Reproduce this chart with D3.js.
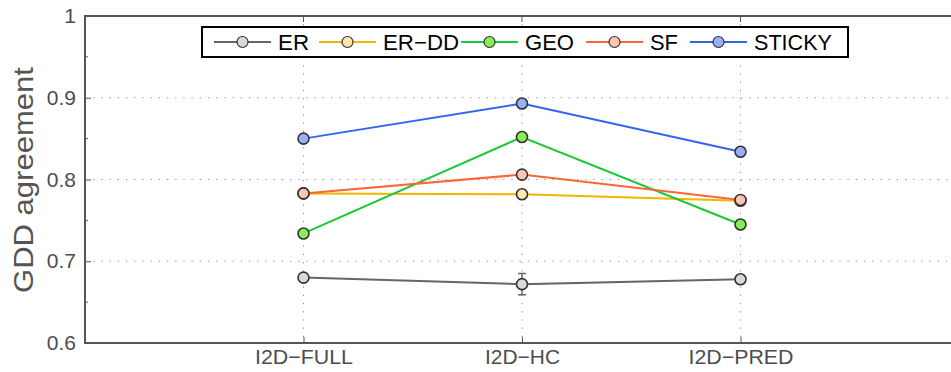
<!DOCTYPE html>
<html><head><meta charset="utf-8">
<script src="https://cdn.jsdelivr.net/npm/d3@7"></script>
<style>body{margin:0;background:#fff}svg{display:block}</style>
</head><body>
<script>
const categories = ["I2D−FULL", "I2D−HC", "I2D−PRED"];
const seriesNames = ["ER", "ER−DD", "GEO", "SF", "STICKY"];
const ER     = [0.680, 0.672, 0.678];
const ER_DD  = [0.783, 0.782, 0.774];
const GEO    = [0.734, 0.852, 0.745];
const SF     = [0.783, 0.806, 0.775];
const STICKY = [0.850, 0.893, 0.834];
const ER_err     = [0.002, 0.013, 0.002];
const ER_DD_err  = [0.001, 0.001, 0.001];
const GEO_err    = [0.001, 0.001, 0.001];
const SF_err     = [0.001, 0.001, 0.001];
const STICKY_err = [0.001, 0.001, 0.001];
const yTicks = [0.6, 0.7, 0.8, 0.9, 1];
const yMinorTicks = [0.65, 0.75, 0.85, 0.95];
const yLabel = "GDD agreement";

const lineColors = ["#666666", "#f2b600", "#19c837", "#ff6633", "#3366ee"];
const fillColors = ["#d9d9d9", "#ffe8b0", "#88ee55", "#ffc4b2", "#97b0f7"];
const series = [ER, ER_DD, GEO, SF, STICKY];
const errs = [ER_err, ER_DD_err, GEO_err, SF_err, STICKY_err];

const W = 951, H = 372;
const L = 85, T = 16, B = 343, R = 959;
const svg = d3.select("body").append("svg").attr("width", W).attr("height", H)
  .style("font-family", "'Liberation Sans', Arial, sans-serif");

const x = d3.scaleLinear().domain([0, 4]).range([L, R]);
const y = d3.scaleLinear().domain([0.6, 1]).range([B, T]);
const xi = i => x(i + 1);

// grid
const grid = svg.append("g").attr("stroke", "#8c8c8c").attr("stroke-width", 1)
  .attr("stroke-dasharray", "1.2,7");
[0.7, 0.8, 0.9].forEach(v => grid.append("line")
  .attr("x1", L).attr("x2", R).attr("y1", y(v)).attr("y2", y(v)));
categories.forEach((c, i) => grid.append("line")
  .attr("x1", xi(i)).attr("x2", xi(i)).attr("y1", T).attr("y2", B));

// axes
const axisColor = "#555";
const yAxis = svg.append("g").attr("transform", `translate(${L},0)`)
  .call(d3.axisLeft(y).tickValues(yTicks).tickFormat(d => d === 1 ? "1" : d3.format(".1f")(d))
    .tickSizeInner(-6).tickSizeOuter(0).tickPadding(9));
yAxis.select(".domain").remove();
yAxis.selectAll("line").attr("stroke", axisColor);
yAxis.selectAll("text").attr("fill", "#4d4d4d").style("font-size", "21px")
  .style("font-family", "'Liberation Sans', Arial, sans-serif");
svg.append("g").selectAll("line").data(yMinorTicks).join("line")
  .attr("x1", L).attr("x2", L + 3).attr("y1", d => y(d)).attr("y2", d => y(d))
  .attr("stroke", axisColor);

const xAxis = svg.append("g").attr("transform", `translate(0,${B})`)
  .call(d3.axisBottom(x).tickValues([1, 2, 3]).tickFormat(d => categories[d - 1])
    .tickSizeInner(-6).tickSizeOuter(0).tickPadding(6));
xAxis.select(".domain").remove();
xAxis.selectAll("line").attr("stroke", axisColor);
xAxis.selectAll("text").attr("fill", "#4d4d4d").style("font-size", "21px")
  .style("font-family", "'Liberation Sans', Arial, sans-serif")
  .attr("textLength", 98).attr("lengthAdjust", "spacingAndGlyphs");
xAxis.selectAll("text").filter(d => d === 2).attr("textLength", 75);
xAxis.selectAll("text").filter(d => d === 3).attr("textLength", 105);

// top ticks
svg.append("g").selectAll("line").data([1, 2, 3]).join("line")
  .attr("x1", d => x(d)).attr("x2", d => x(d)).attr("y1", T).attr("y2", T + 6)
  .attr("stroke", axisColor);

// frame
svg.append("rect").attr("x", L).attr("y", T).attr("width", R - L).attr("height", B - T)
  .attr("fill", "none").attr("stroke", "#555").attr("stroke-width", 2);

// y label
svg.append("text").attr("transform", `translate(33,180) rotate(-90)`)
  .attr("text-anchor", "middle").attr("fill", "#555").style("font-size", "28px")
  .attr("textLength", 226).attr("lengthAdjust", "spacingAndGlyphs")
  .text(yLabel);

// series
const line = d3.line().x((d, i) => xi(i)).y(d => y(d));
series.forEach((s, k) => {
  const g = svg.append("g");
  g.append("path").datum(s).attr("d", line).attr("fill", "none")
    .attr("stroke", lineColors[k]).attr("stroke-width", 2);
  s.forEach((v, i) => {
    const e = errs[k][i];
    if (e > 0.004) {
      g.append("line").attr("x1", xi(i)).attr("x2", xi(i)).attr("y1", y(v - e)).attr("y2", y(v + e))
        .attr("stroke", lineColors[k]).attr("stroke-width", 1.5);
      [v - e, v + e].forEach(w => g.append("line").attr("x1", xi(i) - 4).attr("x2", xi(i) + 4)
        .attr("y1", y(w)).attr("y2", y(w)).attr("stroke", lineColors[k]).attr("stroke-width", 1.5));
    }
  });
  g.selectAll("circle").data(s).join("circle")
    .attr("cx", (d, i) => xi(i)).attr("cy", d => y(d)).attr("r", 5.5)
    .attr("fill", fillColors[k]).attr("stroke", "#333").attr("stroke-width", 1.6);
});

// legend
const lg = svg.append("g");
lg.append("rect").attr("x", 202).attr("y", 27).attr("width", 646).attr("height", 30)
  .attr("fill", "#fff").attr("stroke", "#000").attr("stroke-width", 2);
const legX = [214, 319, 461, 586, 690];
const legW = [31, 76, 49, 28, 78];
seriesNames.forEach((n, k) => {
  const x0 = legX[k], cy = 42;
  lg.append("line").attr("x1", x0).attr("x2", x0 + 57).attr("y1", cy).attr("y2", cy)
    .attr("stroke", lineColors[k]).attr("stroke-width", 2);
  lg.append("circle").attr("cx", x0 + 28.5).attr("cy", cy).attr("r", 5.5)
    .attr("fill", fillColors[k]).attr("stroke", "#333").attr("stroke-width", 1.2);
  lg.append("text").attr("x", x0 + 64).attr("y", cy + 8).attr("fill", "#000")
    .style("font-size", "22px").attr("textLength", legW[k]).attr("lengthAdjust", "spacingAndGlyphs")
    .text(n);
});
</script>
</body></html>
